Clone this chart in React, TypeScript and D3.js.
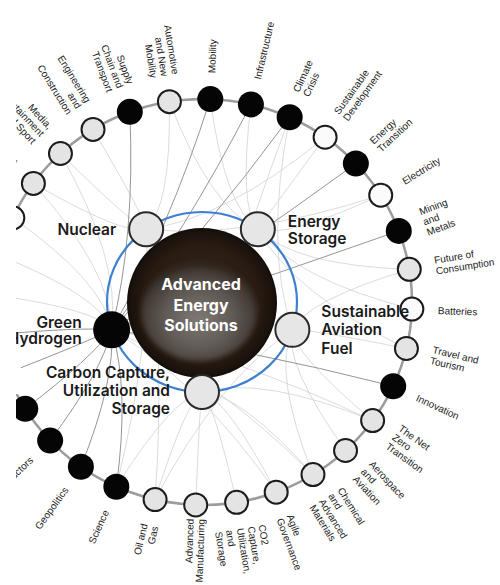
import React from 'react';
import * as d3 from 'd3';

// ---------- DATA ----------
const centerTopic = ['Advanced', 'Energy', 'Solutions'];

const innerTopics = [
  'Nuclear',
  'Energy Storage',
  'Sustainable Aviation Fuel',
  'Carbon Capture, Utilization and Storage',
  'Green Hydrogen',
];
const innerKinds = ['light', 'light', 'light', 'light', 'black'];
const innerLabelLines = [
  ['Nuclear'],
  ['Energy', 'Storage'],
  ['Sustainable', 'Aviation', 'Fuel'],
  ['Carbon Capture,', 'Utilization and', 'Storage'],
  ['Green', 'Hydrogen'],
];

// clockwise, starting from "Mobility" at the top
const outerTopics = [
  'Mobility',
  'Infrastructure',
  'Climate Crisis',
  'Sustainable Development',
  'Energy Transition',
  'Electricity',
  'Mining and Metals',
  'Future of Consumption',
  'Batteries',
  'Travel and Tourism',
  'Innovation',
  'The Net Zero Transition',
  'Aerospace and Aviation',
  'Chemical and Advanced Materials',
  'Agile Governance',
  'CO2 Capture, Utilization, and Storage',
  'Advanced Manufacturing',
  'Oil and Gas',
  'Science',
  'Geopolitics',
  'Semiconductors',
  'Circular Economy',
  'Fourth Industrial Revolution',
  'Cities and Urbanization',
  'Global Governance',
  'Financial and Monetary Systems',
  'Space',
  'Future of Computing',
  'Media, Entertainment and Sport',
  'Engineering and Construction',
  'Supply Chain and Transport',
  'Automotive and New Mobility',
];
const outerLabelLines = [
  ['Mobility'],
  ['Infrastructure'],
  ['Climate', 'Crisis'],
  ['Sustainable', 'Development'],
  ['Energy', 'Transition'],
  ['Electricity'],
  ['Mining', 'and', 'Metals'],
  ['Future of', 'Consumption'],
  ['Batteries'],
  ['Travel and', 'Tourism'],
  ['Innovation'],
  ['The Net', 'Zero', 'Transition'],
  ['Aerospace', 'and', 'Aviation'],
  ['Chemical', 'and', 'Advanced', 'Materials'],
  ['Agile', 'Governance'],
  ['CO2', 'Capture,', 'Utilization,', 'and', 'Storage'],
  ['Advanced', 'Manufacturing'],
  ['Oil and', 'Gas'],
  ['Science'],
  ['Geopolitics'],
  ['Semiconductors'],
  ['Circular', 'Economy'],
  ['Fourth', 'Industrial', 'Revolution'],
  ['Cities and', 'Urbanization'],
  ['Global', 'Governance'],
  ['Financial and', 'Monetary', 'Systems'],
  ['Space'],
  ['Future of', 'Computing'],
  ['Media,', 'Entertainment', 'and Sport'],
  ['Engineering', 'and', 'Construction'],
  ['Supply', 'Chain and', 'Transport'],
  ['Automotive', 'and New', 'Mobility'],
];
const outerKinds = [
  'black', 'black', 'black', 'white', 'black', 'white', 'black', 'light',
  'white', 'light', 'black', 'light', 'light', 'light', 'light', 'light',
  'light', 'light', 'black', 'black', 'black', 'black', 'black', 'black',
  'light', 'light', 'white', 'light', 'light', 'light', 'black', 'light',
];

// strong links: Green Hydrogen to its related topics
const strongLinks: [string, string][] = [
  ['Green Hydrogen', 'Mobility'],
  ['Green Hydrogen', 'Infrastructure'],
  ['Green Hydrogen', 'Climate Crisis'],
  ['Green Hydrogen', 'Energy Transition'],
  ['Green Hydrogen', 'Mining and Metals'],
  ['Green Hydrogen', 'Innovation'],
  ['Green Hydrogen', 'Science'],
  ['Green Hydrogen', 'Geopolitics'],
  ['Green Hydrogen', 'Semiconductors'],
  ['Green Hydrogen', 'Circular Economy'],
  ['Green Hydrogen', 'Fourth Industrial Revolution'],
  ['Green Hydrogen', 'Cities and Urbanization'],
  ['Green Hydrogen', 'Supply Chain and Transport'],
];

const weakLinks: [string, string][] = [
  ['Nuclear', 'Automotive and New Mobility'],
  ['Nuclear', 'Engineering and Construction'],
  ['Nuclear', 'Media, Entertainment and Sport'],
  ['Nuclear', 'Future of Computing'],
  ['Nuclear', 'Electricity'],
  ['Nuclear', 'Sustainable Development'],
  ['Nuclear', 'Oil and Gas'],
  ['Nuclear', 'Science'],
  ['Energy Storage', 'Batteries'],
  ['Energy Storage', 'Electricity'],
  ['Energy Storage', 'Sustainable Development'],
  ['Energy Storage', 'Automotive and New Mobility'],
  ['Energy Storage', 'Future of Consumption'],
  ['Energy Storage', 'Mobility'],
  ['Energy Storage', 'Infrastructure'],
  ['Energy Storage', 'Travel and Tourism'],
  ['Sustainable Aviation Fuel', 'Aerospace and Aviation'],
  ['Sustainable Aviation Fuel', 'Travel and Tourism'],
  ['Sustainable Aviation Fuel', 'The Net Zero Transition'],
  ['Sustainable Aviation Fuel', 'Chemical and Advanced Materials'],
  ['Sustainable Aviation Fuel', 'Oil and Gas'],
  ['Sustainable Aviation Fuel', 'Climate Crisis'],
  ['Sustainable Aviation Fuel', 'Future of Consumption'],
  ['Carbon Capture, Utilization and Storage', 'Oil and Gas'],
  ['Carbon Capture, Utilization and Storage', 'Advanced Manufacturing'],
  ['Carbon Capture, Utilization and Storage', 'CO2 Capture, Utilization, and Storage'],
  ['Carbon Capture, Utilization and Storage', 'Agile Governance'],
  ['Carbon Capture, Utilization and Storage', 'Chemical and Advanced Materials'],
  ['Carbon Capture, Utilization and Storage', 'The Net Zero Transition'],
  ['Carbon Capture, Utilization and Storage', 'Science'],
  ['Carbon Capture, Utilization and Storage', 'Climate Crisis'],
  ['Green Hydrogen', 'Media, Entertainment and Sport'],
  ['Green Hydrogen', 'Space'],
  ['Green Hydrogen', 'Future of Computing'],
  ['Green Hydrogen', 'Global Governance'],
  ['Green Hydrogen', 'Financial and Monetary Systems'],
  ['Green Hydrogen', 'The Net Zero Transition'],
  ['Green Hydrogen', 'Chemical and Advanced Materials'],
  ['Green Hydrogen', 'Agile Governance'],
];

// ---------- LAYOUT ----------
const W = 500;
const H = 585;
const CX = 203, CY = 302, RX = 209, RY = 203;
const ICX = 202, ICY = 302, IRX = 95, IRY = 90;
const HUB = { x: 202, y: 303 };
const LABEL_OFF = 26;
const LH = 11;
const labelOffOverride: Record<string, number> = { 'Advanced Manufacturing': 14 };

const innerLabelLayout = [
  { dx: -30, dy: 6, anchor: 'end' },
  { dx: 30, dy: -2, anchor: 'start' },
  { dx: 29, dy: -13, anchor: 'start' },
  { dx: -32, dy: -14, anchor: 'end' },
  { dx: -30, dy: -2, anchor: 'end' },
];
const innerLH = [18, 17, 18.5, 18, 16];

const outerAngle = d3.scaleLinear().domain([0, outerTopics.length]).range([-88, 272]);
const innerAngle = d3.scaleLinear().domain([0, innerTopics.length]).range([-126, 234]);
const rad = (deg: number) => (deg * Math.PI) / 180;

const outerNodes = outerTopics.map((name, i) => {
  const a = outerAngle(i);
  const off = labelOffOverride[name] ?? LABEL_OFF;
  return {
    name,
    a,
    kind: outerKinds[i],
    lines: outerLabelLines[i],
    x: CX + RX * Math.cos(rad(a)),
    y: CY + RY * Math.sin(rad(a)),
    lx: CX + (RX + off) * Math.cos(rad(a)),
    ly: CY + (RY + off) * Math.sin(rad(a)),
  };
});
const innerNodes = innerTopics.map((name, i) => {
  const a = innerAngle(i);
  return {
    name,
    kind: innerKinds[i],
    lines: innerLabelLines[i],
    x: ICX + IRX * Math.cos(rad(a)),
    y: ICY + IRY * Math.sin(rad(a)),
  };
});
const nodeByName = new Map<string, { x: number; y: number }>();
outerNodes.forEach((n) => nodeByName.set(n.name, n));
innerNodes.forEach((n) => nodeByName.set(n.name, n));

function linkPath(a: string, b: string, k: number) {
  const s = nodeByName.get(a)!;
  const t = nodeByName.get(b)!;
  const mx = (s.x + t.x) / 2, my = (s.y + t.y) / 2;
  const c = { x: mx + (HUB.x - mx) * k, y: my + (HUB.y - my) * k };
  const p = d3.path();
  p.moveTo(s.x, s.y);
  p.quadraticCurveTo(c.x, c.y, t.x, t.y);
  return p.toString();
}

const fillFor = (kind: string) => (kind === 'black' ? '#050505' : kind === 'white' ? '#fbfbfb' : '#e4e4e4');

export default function App() {
  return (
    <svg
      width={W}
      height={H}
      viewBox={`0 0 ${W} ${H}`}
      style={{ position: 'absolute', left: 0, top: 0, background: '#fff' }}
    >
      <defs>
        <radialGradient id="outerG" cx="50%" cy="50%" r="50%">
          <stop offset="0" stopColor="#3a2c22" />
          <stop offset="0.75" stopColor="#2a1c13" />
          <stop offset="0.95" stopColor="#1a120c" />
          <stop offset="1" stopColor="#120c08" />
        </radialGradient>
        <radialGradient id="innerG" cx="50%" cy="58%" r="55%">
          <stop offset="0" stopColor="#807a75" />
          <stop offset="0.55" stopColor="#5f5954" />
          <stop offset="0.85" stopColor="#453d37" />
          <stop offset="1" stopColor="#2e241d" />
        </radialGradient>
        <filter id="soft" x="-20%" y="-20%" width="140%" height="140%">
          <feGaussianBlur stdDeviation="2.5" />
        </filter>
      </defs>

      {/* weak links */}
      <g fill="none" stroke="#d2d2d2" strokeWidth={0.8}>
        {weakLinks.map(([a, b], i) => (
          <path key={i} d={linkPath(a, b, 0.3)} />
        ))}
      </g>
      {/* strong links */}
      <g fill="none" stroke="#959595" strokeWidth={1}>
        {strongLinks.map(([a, b], i) => (
          <path key={i} d={linkPath(a, b, 0.18)} />
        ))}
      </g>

      {/* outer ring */}
      <ellipse cx={CX} cy={CY} rx={RX} ry={RY} fill="none" stroke="#9c9c9c" strokeWidth={2.5} />

      {/* outer nodes */}
      {outerNodes.map((n, i) =>
        n.kind === 'black' ? (
          <circle key={i} cx={n.x} cy={n.y} r={13} fill="#050505" />
        ) : (
          <circle key={i} cx={n.x} cy={n.y} r={11.5} fill={fillFor(n.kind)} stroke="#1c1c1c" strokeWidth={2} />
        )
      )}

      {/* outer labels */}
      <g fontFamily="'Liberation Sans', Arial, sans-serif" fontSize={10} fill="#222">
        {outerNodes.map((n, i) => {
          const right = Math.cos(rad(n.a)) >= 0;
          const rot = right ? n.a : n.a + 180;
          const m = n.lines.length;
          return (
            <text
              key={i}
              transform={`translate(${n.lx},${n.ly}) rotate(${rot})`}
              textAnchor={right ? 'start' : 'end'}
              dominantBaseline="central"
            >
              {n.lines.map((l, j) => (
                <tspan key={j} x={0} y={(j - (m - 1) / 2) * LH}>
                  {l}
                </tspan>
              ))}
            </text>
          );
        })}
      </g>

      {/* center */}
      <circle cx={HUB.x} cy={HUB.y} r={75} fill="url(#outerG)" />
      <ellipse cx={199} cy={311} rx={58} ry={50} fill="url(#innerG)" filter="url(#soft)" />
      <ellipse cx={ICX} cy={ICY} rx={IRX} ry={IRY} fill="none" stroke="#3d7fd0" strokeWidth={2.2} />

      {/* inner nodes */}
      {innerNodes.map((n, i) =>
        n.kind === 'black' ? (
          <circle key={i} cx={n.x} cy={n.y} r={18.5} fill="#050505" />
        ) : (
          <circle key={i} cx={n.x} cy={n.y} r={17} fill="#e6e6e6" stroke="#2a2a2a" strokeWidth={2} />
        )
      )}

      {/* inner labels */}
      <g fontFamily="Inter, 'Noto Sans', sans-serif" fontWeight={600} fontSize={15.5} fill="#1a1a1a">
        {innerNodes.map((n, i) => {
          const L = innerLabelLayout[i];
          return (
            <text key={i} textAnchor={L.anchor} x={n.x + L.dx} y={n.y + L.dy}>
              {n.lines.map((l, j) => (
                <tspan key={j} x={n.x + L.dx} dy={j === 0 ? 0 : innerLH[i]}>
                  {l}
                </tspan>
              ))}
            </text>
          );
        })}
      </g>

      {/* center title */}
      <text
        fontFamily="Inter, 'Noto Sans', sans-serif"
        fontWeight={700}
        fontSize={16}
        fill="#ffffff"
        textAnchor="middle"
      >
        {centerTopic.map((l, j) => (
          <tspan key={j} x={201} y={290 + j * 20.5}>
            {l}
          </tspan>
        ))}
      </text>

      {/* cropped left edge of the original picture */}
      <path d={`M0,0H16V352H21V394H16V${H}H0Z`} fill="#ffffff" />
    </svg>
  );
}
